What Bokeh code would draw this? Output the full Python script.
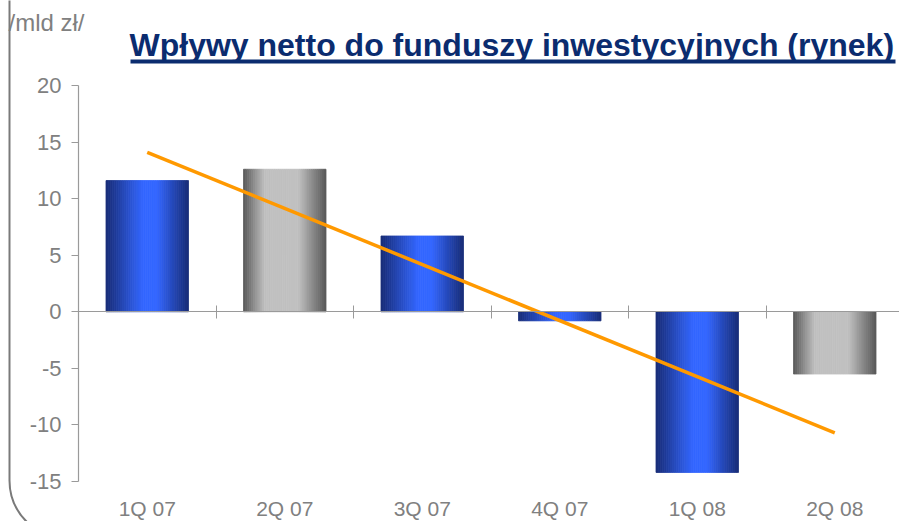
import numpy as np
from bokeh.plotting import figure
from bokeh.models import Range1d, LinearAxis, FixedTicker, Label, BoxAnnotation, ColumnDataSource
from bokeh.core.properties import value
from bokeh.embed import file_html
from bokeh.resources import INLINE

# ---------------- data ----------------
categories = ["1Q 07", "2Q 07", "3Q 07", "4Q 07", "1Q 08", "2Q 08"]
inflows = [11.6, 12.6, 6.7, -0.8, -14.2, -5.5]          # mld zł
trend_ends = [14.1, -10.7]                               # trend line at first / last quarter
y_ticks = [-15, -10, -5, 0, 5, 10, 15, 20]
y_tick_labels = ["-15", "-10", "-5", "0", "5", "10", "15", "20"]
title_text = "Wpływy netto do funduszy inwestycyjnych (rynek)"
unit_text = "/mld zł/"

# ---------------- styles ----------------
bar_styles = ["blue", "gray", "blue", "blue", "blue", "gray"]
GRADS = {
    "blue": [(0.0, (24, 44, 118)), (0.45, (51, 102, 255)), (0.62, (51, 102, 255)), (1.0, (24, 44, 118))],
    "gray": [(0.0, (88, 88, 88)), (0.26, (192, 192, 192)), (0.67, (192, 192, 192)), (1.0, (88, 88, 88))],
}
AXIS_COL = "#9a9a9a"
TEXT_COL = "#808080"
TITLE_COL = "#0b2c6f"
ORANGE = "#FF9900"

W, H = 899, 521
X0_PX, CAT_PX = 78.0, 137.5       # canvas x of category axis start, px per category
Y0_PX, UNIT_PX = 311.3, 11.314    # canvas y of value 0, px per unit


def px2x(px):
    return (px - X0_PX) / CAT_PX


def px2y(py):
    return (Y0_PX - py) / UNIT_PX


def grad_color(style, t):
    stops = GRADS[style]
    for (t0, c0), (t1, c1) in zip(stops[:-1], stops[1:]):
        if t0 <= t <= t1:
            f = 0 if t1 == t0 else (t - t0) / (t1 - t0)
            c = [int(round(a + (b - a) * f)) for a, b in zip(c0, c1)]
            return "#%02x%02x%02x" % tuple(c)
    return "#%02x%02x%02x" % stops[-1][1]


p = figure(width=W, height=H, output_backend="svg", toolbar_location=None,
           x_range=Range1d(px2x(0), px2x(W)),
           y_range=Range1d(px2y(H), px2y(0)),
           x_axis_location=None, y_axis_location=None, title=None,
           min_border=0, min_border_left=0, min_border_right=0,
           min_border_top=0, min_border_bottom=0)
p.outline_line_color = None
p.background_fill_color = "white"
p.border_fill_color = "white"
p.grid.visible = False

n = len(categories)
centers = np.arange(n) + 0.5
bar_w = 0.6
strips = 40

lefts, rights, tops, bottoms, cols = [], [], [], [], []
for i, (v, s) in enumerate(zip(inflows, bar_styles)):
    l0 = centers[i] - bar_w / 2
    for k in range(strips):
        t = (k + 0.5) / strips
        lefts.append(l0 + k * bar_w / strips)
        rights.append(l0 + (k + 1) * bar_w / strips)
        tops.append(max(v, 0))
        bottoms.append(min(v, 0))
        cols.append(grad_color(s, t))

src = ColumnDataSource(dict(left=lefts, right=rights, top=tops, bottom=bottoms, color=cols))
p.quad(left="left", right="right", top="top", bottom="bottom", source=src,
       fill_color="color", line_color="color", line_width=0.8)

# zero axis with ticks between categories
zaxis = LinearAxis(fixed_location=0, bounds=(0, n),
                   ticker=FixedTicker(ticks=[], minor_ticks=list(range(1, n))),
                   axis_line_color=AXIS_COL, axis_line_width=1.2,
                   minor_tick_line_color=AXIS_COL, minor_tick_in=6, minor_tick_out=7,
                   major_tick_line_color=None, major_label_text_font_size="0px")
p.add_layout(zaxis, "below")

# value axis
yaxis = LinearAxis(fixed_location=0, bounds=(y_ticks[0], y_ticks[-1]),
                   ticker=FixedTicker(ticks=y_ticks),
                   major_label_overrides={t: l for t, l in zip(y_ticks, y_tick_labels)},
                   axis_line_color=AXIS_COL, axis_line_width=1.2,
                   major_tick_line_color=AXIS_COL, major_tick_in=0, major_tick_out=7,
                   minor_tick_line_color=None,
                   major_label_text_color=TEXT_COL, major_label_text_font="Liberation Sans",
                   major_label_text_font_size="22px", major_label_standoff=10)
p.add_layout(yaxis, "left")

# trend line
p.line(x=[centers[0], centers[-1]], y=trend_ends, line_color=ORANGE, line_width=3.5)

# category labels
lab_src = ColumnDataSource(dict(x=centers, y=[px2y(507.5)] * n, text=categories))
p.text(x="x", y="y", text="text", source=lab_src, text_font=value("Liberation Sans"),
       text_font_size="21px", text_color=TEXT_COL, text_align="center",
       text_baseline="middle")

# unit label
p.add_layout(Label(x=px2x(8), y=px2y(21.5), text=unit_text, text_font="Liberation Sans",
                   text_font_size="24px", text_color=TEXT_COL, text_baseline="middle"))

# title with underline
p.add_layout(Label(x=px2x(129), y=px2y(44.5), text=title_text, text_font="Liberation Sans",
                   text_font_style="bold", text_font_size="32px", text_color=TITLE_COL,
                   text_baseline="middle"))
p.add_layout(BoxAnnotation(left=px2x(130), right=px2x(895), top=px2y(59), bottom=px2y(63),
                           fill_color=TITLE_COL, fill_alpha=1.0, line_color=None))

# slide frame on the left
p.add_layout(BoxAnnotation(left=px2x(9), right=px2x(W + 60), top=px2y(-100),
                           bottom=px2y(538), fill_color=None, fill_alpha=0,
                           line_color="#7a7a7a", line_alpha=1.0, line_dash="solid",
                           line_width=2, border_radius=58))

open("out.html", "w").write(file_html(p, INLINE))
